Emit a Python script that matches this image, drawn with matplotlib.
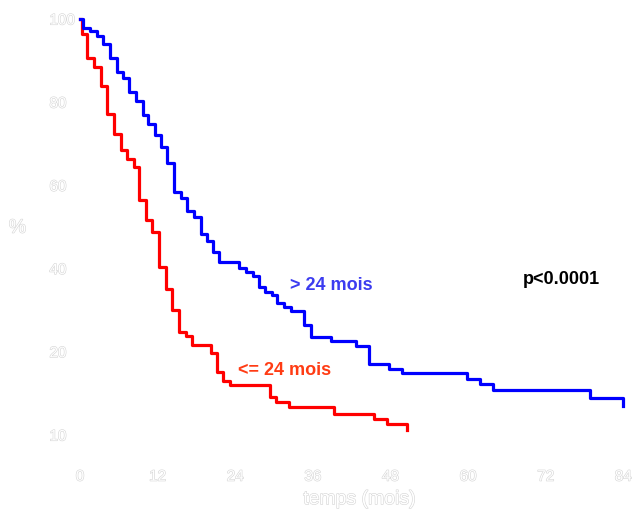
import matplotlib.pyplot as plt
import matplotlib.patheffects as pe

# temps (mois) des marches et survie (%) apres chaque marche
t_sup24 = [0, 0.46, 1.55, 2.63, 3.55, 4.64, 5.72, 6.65, 7.57, 8.66, 9.74, 10.51, 11.59,
           12.60, 13.52, 14.57, 15.61, 16.62, 17.67, 18.70, 19.68, 20.60, 21.53, 24.62,
           25.66, 26.69, 27.67, 28.59, 29.63, 30.49, 31.53, 32.61, 34.62, 35.66, 38.75,
           42.66, 44.67, 47.76, 49.81, 59.77, 61.82, 63.88, 78.83, 83.97]
s_sup24 = [100, 97.8, 97.1, 96.0, 93.9, 90.7, 87.2, 85.9, 82.5, 80.3, 76.9, 74.8, 72.1,
           69.3, 65.5, 58.3, 56.9, 53.9, 52.3, 48.2, 46.6, 44.1, 41.7, 40.1,
           39.2, 38.2, 35.6, 34.4, 33.7, 31.8, 30.7, 29.8, 26.4, 23.6, 22.7,
           21.5, 17.1, 15.9, 14.8, 13.4, 12.3, 10.7, 9.0, 7.0]

t_inf24 = [0, 0.3, 1.13, 2.16, 3.20, 4.22, 5.26, 6.29, 7.31, 8.35, 9.12, 10.15, 11.17,
           12.21, 13.25, 14.27, 15.30, 16.34, 17.36, 20.25, 21.22, 22.15, 23.18, 29.37,
           30.29, 32.30, 39.26, 45.44, 47.50, 50.49]
s_inf24 = [100, 96.3, 90.6, 88.5, 83.9, 77.1, 72.4, 68.5, 66.3, 64.5, 56.5, 51.7, 48.9,
           40.5, 35.1, 30.0, 24.8, 23.8, 21.6, 19.6, 15.2, 13.1, 12.0, 9.2,
           8.0, 6.7, 5.0, 3.8, 2.6, 1.2]

xticks = [0, 12, 24, 36, 48, 60, 72, 84]
yticks = [0, 20, 40, 60, 80, 100]
ylabels = ['10', '20', '40', '60', '80', '100']

plt.rcParams['font.family'] = ['Liberation Sans', 'DejaVu Sans']
fig = plt.figure(figsize=(6.33, 5.12), dpi=100)
ax = fig.add_axes([80 / 633, 77 / 512, 543.3 / 633, 416 / 512])

ax.step(t_inf24, s_inf24, where='post', color='#ff0000', lw=2.3, clip_on=False)
ax.step(t_sup24, s_sup24, where='post', color='#0000ff', lw=2.3, clip_on=False)

ax.set_xlim(0, 84)
ax.set_ylim(0, 100)
for s in ax.spines.values():
    s.set_visible(False)

halo = [pe.withStroke(linewidth=0.8, foreground='#d4d4d4')]
ax.set_xticks(xticks)
ax.set_xticklabels([str(x) for x in xticks])
ax.set_yticks(yticks)
ax.set_yticklabels(ylabels, ha='left')
ax.tick_params(axis='x', length=0, pad=25, labelsize=11, labelcolor='white')
ax.tick_params(axis='y', length=0, pad=22, labelsize=11, labelcolor='white')
for lab in ax.get_xticklabels() + ax.get_yticklabels():
    lab.set_path_effects(halo)

xl = ax.set_xlabel("temps (mois)", fontsize=14, color='white', labelpad=4)
xl.set_path_effects(halo)
ax.xaxis.set_label_coords(0.515, -0.135)
yl = ax.set_ylabel("%", fontsize=14, color='white', rotation=0, va='center', ha='center')
yl.set_path_effects(halo)
ax.yaxis.set_label_coords(-0.115, 0.497)

ax.text(32.5, 36, "> 24 mois", color='#3c3cf0', fontsize=13, fontweight='bold', va='center')
ax.text(24.4, 15.6, "<= 24 mois", color='#ff3c14', fontsize=13, fontweight='bold', va='center')
ax.text(68.5, 37.5, "p<0.0001", color='black', fontsize=13, fontweight='bold', va='center')

fig.savefig("out.png", dpi=100)
